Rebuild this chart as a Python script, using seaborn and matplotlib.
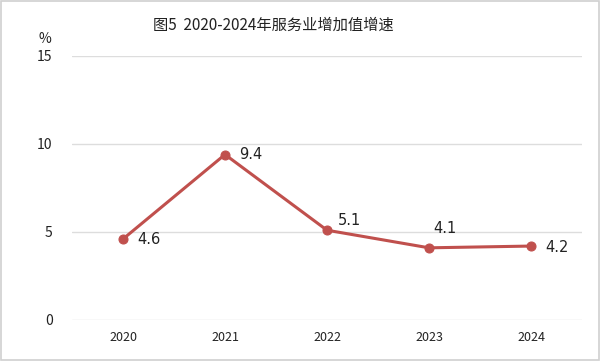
import matplotlib
matplotlib.use("Agg")
import matplotlib.pyplot as plt
import pandas as pd
import seaborn as sns

years = ["2020", "2021", "2022", "2023", "2024"]
growth = [4.6, 9.4, 5.1, 4.1, 4.2]
# label offsets (points) relative to each marker
label_dx = [10, 10, 8, 3, 10]
label_dy = [0, 0, 7, 14, -1]

df = pd.DataFrame({"year": years, "growth": growth})

sns.set_style("white")
plt.rcParams["font.family"] = ["Noto Sans CJK SC", "DejaVu Sans"]

fig = plt.figure(figsize=(6, 3.61), dpi=100)
ax = fig.add_axes([0.12, 0.1136, 0.85, 0.7314])

sns.lineplot(data=df, x="year", y="growth", ax=ax, color="#C0504D",
             linewidth=2.2, marker="o", markersize=6.5,
             markeredgecolor="#C0504D", sort=False)

for i, v in enumerate(growth):
    ax.annotate(f"{v}", xy=(i, v), xytext=(label_dx[i], label_dy[i]),
                textcoords="offset points", ha="left", va="center",
                fontsize=10.5, color="#222222", family="DejaVu Sans")

ax.set_xlim(-0.5, 4.5)
ax.set_ylim(0, 15)
ax.set_yticks([0, 5, 10, 15])
ax.yaxis.grid(True, color="#DDDDDD", linewidth=1)
ax.set_axisbelow(True)
for s in ax.spines.values():
    s.set_visible(False)
ax.tick_params(axis="y", length=0, pad=14, labelsize=10, labelcolor="#222222")
ax.tick_params(axis="x", length=0, pad=8, labelsize=9, labelcolor="#222222")
ax.set_xlabel("")
ax.set_ylabel("")

fig.text(0.075, 0.893, "%", fontsize=10, ha="center", va="center", color="#222222")
fig.text(0.455, 0.93, "图5  2020-2024年服务业增加值增速", fontsize=11,
         ha="center", va="center", color="#222222")

# light frame around the picture
fig.patches.append(plt.Rectangle((0.001, 0.002), 0.997, 0.995, transform=fig.transFigure,
                                 fill=False, edgecolor="#D0D0D0", linewidth=1.2))

fig.savefig("out.png", dpi=100)
